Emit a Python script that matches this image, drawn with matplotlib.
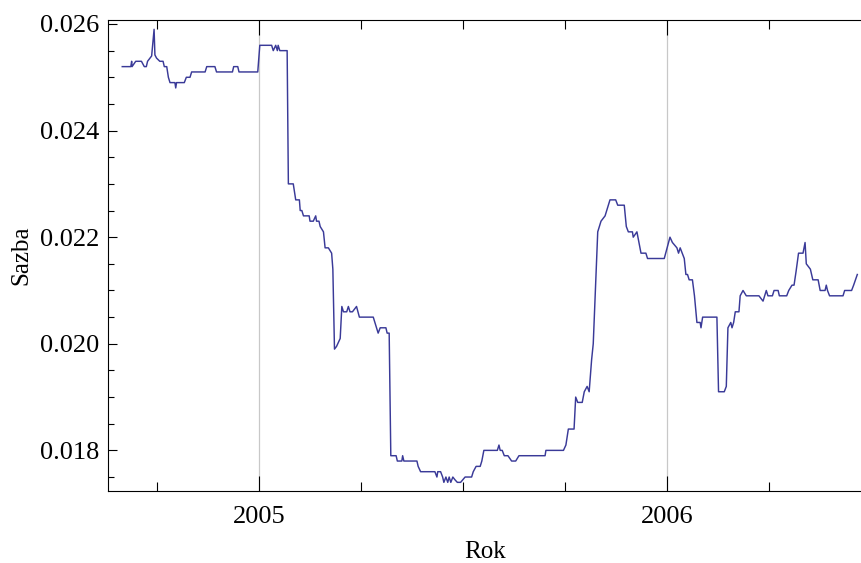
import matplotlib
matplotlib.use("Agg")
import matplotlib.pyplot as plt
from matplotlib.ticker import MultipleLocator, FixedLocator, FuncFormatter

# rate series, x in decimal years
rok = [
    2004.665, 2004.686, 2004.688, 2004.689, 2004.698, 2004.712, 2004.719, 2004.724,
    2004.727, 2004.733, 2004.737, 2004.743, 2004.745, 2004.749, 2004.757, 2004.765,
    2004.768, 2004.774, 2004.778, 2004.782, 2004.788, 2004.794, 2004.796, 2004.798,
    2004.817, 2004.822, 2004.831, 2004.835, 2004.868, 2004.872, 2004.892, 2004.896,
    2004.935, 2004.938, 2004.948, 2004.951, 2004.997, 2005.002, 2005.031, 2005.035,
    2005.041, 2005.045, 2005.047, 2005.051, 2005.069, 2005.072, 2005.084, 2005.090,
    2005.099, 2005.101, 2005.105, 2005.109, 2005.123, 2005.125, 2005.133, 2005.139,
    2005.141, 2005.147, 2005.150, 2005.158, 2005.162, 2005.170, 2005.178, 2005.181,
    2005.185, 2005.190, 2005.199, 2005.203, 2005.207, 2005.215, 2005.219, 2005.223,
    2005.229, 2005.239, 2005.246, 2005.280, 2005.288, 2005.292, 2005.297, 2005.311,
    2005.314, 2005.319, 2005.323, 2005.336, 2005.339, 2005.350, 2005.352, 2005.355,
    2005.387, 2005.390, 2005.396, 2005.431, 2005.436, 2005.438, 2005.445, 2005.450,
    2005.453, 2005.458, 2005.4625, 2005.466, 2005.470, 2005.475, 2005.480, 2005.486,
    2005.494, 2005.505, 2005.521, 2005.525, 2005.532, 2005.542, 2005.546, 2005.551,
    2005.584, 2005.588, 2005.591, 2005.596, 2005.601, 2005.610, 2005.619, 2005.629,
    2005.637, 2005.701, 2005.703, 2005.746, 2005.752, 2005.758, 2005.772, 2005.776,
    2005.781, 2005.792, 2005.797, 2005.804, 2005.809, 2005.815, 2005.819, 2005.830,
    2005.838, 2005.848, 2005.852, 2005.860, 2005.874, 2005.879, 2005.895, 2005.900,
    2005.905, 2005.915, 2005.917, 2005.926, 2005.936, 2005.948, 2005.952, 2005.993,
    2006.007, 2006.013, 2006.024, 2006.028, 2006.032, 2006.042, 2006.046, 2006.050,
    2006.054, 2006.062, 2006.067, 2006.073, 2006.081, 2006.083, 2006.087, 2006.122,
    2006.126, 2006.140, 2006.145, 2006.149, 2006.156, 2006.159, 2006.163, 2006.167,
    2006.176, 2006.179, 2006.186, 2006.194, 2006.225, 2006.235, 2006.243, 2006.247,
    2006.258, 2006.262, 2006.272, 2006.275, 2006.293, 2006.298, 2006.306, 2006.311,
    2006.316, 2006.322, 2006.333, 2006.338, 2006.341, 2006.351, 2006.357, 2006.370,
    2006.375, 2006.387, 2006.390, 2006.393, 2006.398, 2006.431, 2006.435, 2006.452,
    2006.457, 2006.466,
]
sazba = [
    0.0252, 0.0252, 0.0253, 0.0252, 0.0253, 0.0253, 0.0252, 0.0252,
    0.0253, 0.02536, 0.0254, 0.0259, 0.02542, 0.02536, 0.0253, 0.0253,
    0.0252, 0.0252, 0.0250, 0.0249, 0.0249, 0.0249, 0.0248, 0.0249,
    0.0249, 0.0250, 0.0250, 0.0251, 0.0251, 0.0252, 0.0252, 0.0251,
    0.0251, 0.0252, 0.0252, 0.0251, 0.0251, 0.0256, 0.0256, 0.0255,
    0.0256, 0.0255, 0.0256, 0.0255, 0.0255, 0.0230, 0.0230, 0.0227,
    0.0227, 0.0225, 0.0225, 0.0224, 0.0224, 0.0223, 0.0223, 0.0224,
    0.0223, 0.0223, 0.0222, 0.0221, 0.0218, 0.0218, 0.0217, 0.0214,
    0.0199, 0.01995, 0.0201, 0.0207, 0.0206, 0.0206, 0.0207, 0.0206,
    0.0206, 0.0207, 0.0205, 0.0205, 0.0203, 0.0202, 0.0203, 0.0203,
    0.0202, 0.0202, 0.0179, 0.0179, 0.0178, 0.0178, 0.0179, 0.0178,
    0.0178, 0.0177, 0.0176, 0.0176, 0.0175, 0.0176, 0.0176, 0.0175,
    0.0174, 0.0175, 0.0174, 0.0175, 0.0174, 0.0175, 0.01745, 0.0174,
    0.0174, 0.0175, 0.0175, 0.0176, 0.0177, 0.0177, 0.0178, 0.0180,
    0.0180, 0.0181, 0.0180, 0.0180, 0.0179, 0.0179, 0.0178, 0.0178,
    0.0179, 0.0179, 0.0180, 0.0180, 0.0181, 0.0184, 0.0184, 0.0190,
    0.0189, 0.0189, 0.0191, 0.0192, 0.0191, 0.0197, 0.0200, 0.0221,
    0.0223, 0.0224, 0.0225, 0.0227, 0.0227, 0.0226, 0.0226, 0.0222,
    0.0221, 0.0221, 0.0220, 0.0221, 0.0217, 0.0217, 0.0216, 0.0216,
    0.0220, 0.0219, 0.0218, 0.0217, 0.0218, 0.0216, 0.0213, 0.0213,
    0.0212, 0.0212, 0.0209, 0.0204, 0.0204, 0.0203, 0.0205, 0.0205,
    0.0191, 0.0191, 0.0192, 0.0203, 0.0204, 0.0203, 0.0204, 0.0206,
    0.0206, 0.0209, 0.0210, 0.0209, 0.0209, 0.0208, 0.0210, 0.0209,
    0.0209, 0.0210, 0.0210, 0.0209, 0.0209, 0.0210, 0.0211, 0.0211,
    0.02136, 0.0217, 0.0217, 0.0219, 0.0215, 0.0214, 0.0212, 0.0212,
    0.0210, 0.0210, 0.0211, 0.0210, 0.0209, 0.0209, 0.0210, 0.0210,
    0.0211, 0.0213,
]

roky = [2005, 2006]
y_ticks = [0.018, 0.020, 0.022, 0.024, 0.026]

plt.rcParams['font.family'] = ['Liberation Serif', 'DejaVu Serif']

fig = plt.figure(figsize=(8.61, 5.63), dpi=100)
# frame runs past the right edge of the canvas
ax = fig.add_axes([0.1254, 0.1279, 0.8760, 0.8366])

for r in roky:
    ax.axvline(r, color='#c8c8c8', lw=0.9, zorder=0)

ax.plot(rok, sazba, color='#3a3a98', lw=1.05)

ax.set_xlim(2004.630, 2006.478)
ax.set_ylim(0.017238, 0.026075)

ax.xaxis.set_major_locator(FixedLocator(roky))
ax.xaxis.set_minor_locator(MultipleLocator(0.25))
ax.xaxis.set_major_formatter(FuncFormatter(lambda v, p: f"{int(round(v))}"))
ax.yaxis.set_major_locator(FixedLocator(y_ticks))
ax.yaxis.set_minor_locator(MultipleLocator(0.0005))
ax.yaxis.set_major_formatter(FuncFormatter(lambda v, p: f"{v:.3f}"))

ax.tick_params(axis='both', which='both', direction='in', top=True, right=False,
               width=0.8, color='black', labelsize=19)
ax.tick_params(axis='x', which='major', length=11, pad=11)
ax.tick_params(axis='x', which='minor', length=6.5)
ax.tick_params(axis='y', which='major', length=6.5, pad=6)
ax.tick_params(axis='y', which='minor', length=4.3)

for s in ax.spines.values():
    s.set_linewidth(0.8)

ax.set_xlabel('Rok', fontsize=18, labelpad=9)
ax.set_ylabel('Sazba', fontsize=18, labelpad=6)

fig.savefig('out.png', dpi=100)
